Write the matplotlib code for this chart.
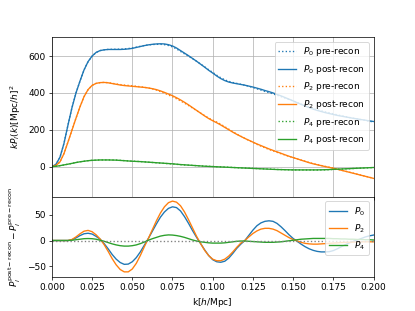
import numpy as np
import matplotlib
matplotlib.use("Agg")
import matplotlib.pyplot as plt

# k grid, 0 to 0.2 h/Mpc in steps of 0.0025
k = np.linspace(0, 0.2, 81)

# k*P_l post-recon
kP0_post = [0, 12, 50, 125, 225, 320, 400, 465, 525, 570,
            600, 620, 630, 634, 636, 636, 636, 636, 637, 639,
            642, 647, 652, 657, 661, 664, 666, 667, 666, 662,
            655, 644, 630, 616, 602, 587, 572, 556, 540, 523,
            508, 492, 478, 467, 459, 454, 450, 446, 442, 437,
            432, 426, 420, 413, 407, 400, 392, 384, 375, 366,
            357, 347, 338, 329, 320, 312, 305, 299, 293, 288,
            283, 278, 274, 270, 266, 262, 259, 255, 252, 248,
            245]
kP2_post = [0, 6, 25, 70, 133, 198, 263, 325, 380, 418,
            441, 452, 456, 457, 455, 451, 447, 443, 440, 438,
            436, 434, 432, 430, 427, 423, 418, 411, 403, 394,
            385, 374, 362, 349, 335, 320, 305, 290, 275, 261,
            249, 238, 226, 213, 200, 187, 175, 164, 153, 143,
            133, 123, 114, 105, 96, 88, 80, 72, 64, 56,
            49, 42, 35, 28, 21, 15, 10, 5, 0, -4.5,
            -9, -14.5, -20, -25.5, -31, -36.5, -42, -47.5, -53, -58.5,
            -64]
kP4_post = [0, 1.5, 5, 9, 13, 17.5, 22, 26, 29, 32,
            34, 35, 36, 36, 36, 35.5, 35, 33.5, 32, 30.5,
            29, 28, 27, 25.5, 24, 22.5, 21, 19.5, 18, 16.5,
            15, 13, 11, 9.5, 8, 6.5, 5, 3.5, 2, 1,
            0, -1, -2, -3, -4, -5, -6, -7, -8, -9,
            -10, -11, -12, -13, -14, -15, -16, -16.5, -17, -17.5,
            -18, -18, -18, -18, -18, -18, -18, -17.5, -17, -16,
            -15, -14, -13, -12, -11, -10, -9, -8, -7, -6,
            -5]

# P_l post-recon minus P_l pre-recon
dP0 = [0, 0, 0, 0, 0, 1.5, 5, 9.5, 13, 14,
       12.5, 8, 2.5, -6, -16, -27, -36, -42.5, -46, -45.5,
       -41, -33, -22, -9, 4, 18, 32, 45, 55, 62,
       65, 63.5, 57, 46, 33, 19, 6, -6, -18, -29,
       -37, -41, -42, -40, -34, -25, -15, -7, 0, 10,
       20, 28.5, 34, 37, 38, 37, 33, 26.5, 19, 11,
       4, -1.5, -7, -12, -16, -19, -21, -22, -22, -21.5,
       -19.5, -16, -12, -8, -4.5, -1.5, 1, 4, 7, 9,
       10.5]
dP2 = [0, 0, 0, 0, 0, 2, 7, 13, 18, 19.5,
       17, 11, 3, -8, -21, -35, -47, -56, -60.5, -60.5,
       -55, -44, -29, -12, 4, 21, 38, 53, 65, 73,
       76, 74, 67, 55, 40, 24, 8, -6, -19, -29,
       -36, -39, -39, -36, -30, -22, -13, -5, 0, 7,
       13.5, 18.5, 22, 23.5, 23.5, 22, 19, 14.5, 10, 5.5,
       2, -1, -3.5, -5.5, -6.5, -7, -7, -6.5, -6, -5.5,
       -5, -4.5, -4, -3.5, -3.5, -3, -3, -2.5, -2.5, -2.5,
       -2.5]
dP4 = [0, 0, 0, 0, 0, 0.5, 1.5, 2.5, 3.5, 3.8,
       3.5, 2.5, 0.5, -1.5, -4, -6.5, -8.5, -10, -10.8, -10.8,
       -10, -8.5, -6, -3, 0.5, 3.5, 6, 8.5, 10, 10.8,
       10.5, 9.5, 8, 6, 3.5, 1, -1, -2.5, -3.5, -4.5,
       -5, -5, -5, -4.5, -3.5, -2.5, -1.5, -1, -1, -1.5,
       -2, -2.5, -3, -3.5, -3.5, -3.5, -3, -2.5, -1.5, -0.5,
       0.5, 1.5, 2.5, 3, 3.5, 4, 4, 4, 4, 4,
       3.5, 3.5, 3, 3, 2.5, 2.5, 2, 2, 1.5, 1.5,
       1]

post = [np.array(kP0_post), np.array(kP2_post), np.array(kP4_post)]
diff = [np.array(dP0), np.array(dP2), np.array(dP4)]
names = ["$P_0$", "$P_2$", "$P_4$"]
cols = ["C0", "C1", "C2"]

fig = plt.figure(figsize=(415 / 65, 311 / 65), dpi=65)
gs = fig.add_gridspec(2, 1, height_ratios=[2, 1], hspace=0)
ax1 = fig.add_subplot(gs[0])
ax2 = fig.add_subplot(gs[1], sharex=ax1)

for i in range(3):
    pre = post[i] - k * diff[i]
    ax1.plot(k, pre, ":", color=cols[i], label=names[i] + " pre-recon")
    ax1.plot(k, post[i], "-", color=cols[i], label=names[i] + " post-recon")
ax1.set_ylabel(r"$kP_l(k)[{\rm Mpc}/h]^2$")
ax1.set_ylim(-165, 702)
ax1.grid()
ax1.legend(loc="upper right")
plt.setp(ax1.get_xticklabels(), visible=False)

for i in range(3):
    ax2.plot(k, diff[i], color=cols[i], label=names[i])
ax2.axhline(0, color="gray", ls=":")
ax2.set_ylim(-70, 84)
ax2.set_xlim(0, 0.2)
ax2.set_xlabel(r"k$[h/{\rm Mpc}]$")
ax2.set_ylabel(r"$P_l^{\rm post-recon}-P_l^{\rm pre-recon}$")
ax2.legend(loc="upper right")
fig.align_ylabels([ax1, ax2])

fig.savefig("out.png", dpi=65)
